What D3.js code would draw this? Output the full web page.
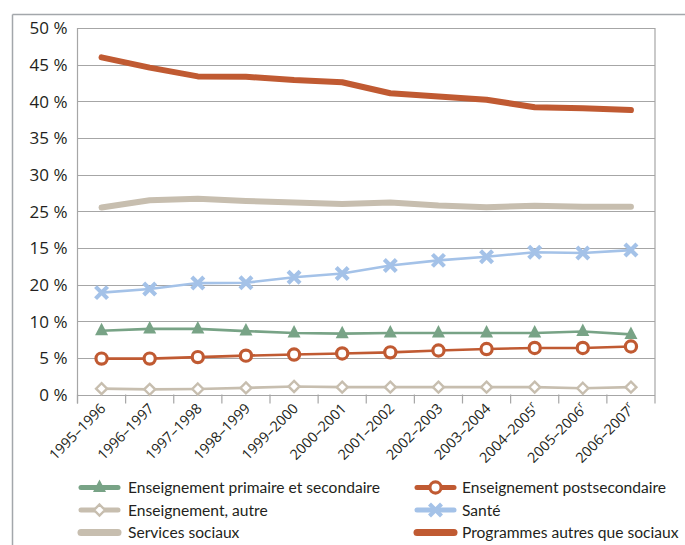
<!DOCTYPE html>
<html><head><meta charset="utf-8">
<script src="https://cdn.jsdelivr.net/npm/d3@7"></script>
<style>
body{margin:0;background:#fff;}
svg{display:block;font-family:Lato,"Open Sans",sans-serif;}
</style></head>
<body><svg id="c" width="685" height="545"></svg>
<script>
const categories = ["1995–1996","1996–1997","1997–1998","1998–1999","1999–2000","2000–2001","2001–2002","2002–2003","2003–2004","2004–2005","2005–2006","2006–2007"];
const revised = [false,false,false,false,false,false,false,false,false,true,true,true];
const yTickValues = [0,5,10,15,20,25,30,35,40,45,50];
const yTickLabels = ["0 %","5 %","10 %","20 %","15 %","25 %","30 %","35 %","40 %","45 %","50 %"];

const primaireSecondaire = [8.7,8.95,8.95,8.65,8.4,8.3,8.4,8.4,8.4,8.4,8.6,8.2];
const postsecondaire = [4.9,4.9,5.1,5.3,5.45,5.6,5.75,6.0,6.2,6.35,6.35,6.55];
const enseignementAutre = [0.8,0.7,0.75,0.9,1.1,1.0,1.0,1.0,1.0,1.0,0.85,1.0];
const sante = [13.9,14.4,15.2,15.25,16.0,16.5,17.6,18.3,18.8,19.4,19.3,19.7];
const servicesSociaux = [25.5,26.5,26.7,26.4,26.2,26.0,26.2,25.8,25.55,25.75,25.6,25.6];
const programmesAutres = [46.0,44.6,43.4,43.35,42.9,42.6,41.1,40.65,40.2,39.2,39.05,38.8];

const seriesNames = ["Enseignement primaire et secondaire","Enseignement postsecondaire","Enseignement, autre","Santé","Services sociaux","Programmes autres que sociaux"];

const ORANGE="#c05a32", BEIGE="#c7beaf", BLUE="#a4c2e8", GREEN="#78a386";
const series = [
  {name:seriesNames[4], values:servicesSociaux, color:BEIGE, width:6, marker:null},
  {name:seriesNames[5], values:programmesAutres, color:ORANGE, width:6, marker:null},
  {name:seriesNames[3], values:sante, color:BLUE, width:2.6, marker:"x"},
  {name:seriesNames[0], values:primaireSecondaire, color:GREEN, width:2.6, marker:"tri"},
  {name:seriesNames[2], values:enseignementAutre, color:BEIGE, width:2.6, marker:"dia"},
  {name:seriesNames[1], values:postsecondaire, color:ORANGE, width:2.6, marker:"circ"}
];

const svg = d3.select("#c");
const L=77.5, R=655, T=28, B=394.5;

// outer frame
svg.append("line").attr("x1",12.5).attr("x2",685).attr("y1",14.5).attr("y2",14.5).attr("stroke","#a3a7ab").attr("stroke-width",1.5);
svg.append("line").attr("x1",12.5).attr("x2",12.5).attr("y1",14.5).attr("y2",545).attr("stroke","#a3a7ab").attr("stroke-width",1.5);

const x = d3.scaleBand().domain(categories).range([L,R]).padding(0);
const y = d3.scaleLinear().domain([0,50]).range([B,T]);

// gridlines
svg.append("g").selectAll("line").data(yTickValues).join("line")
  .attr("x1",L).attr("x2",R).attr("y1",d=>Math.round(y(d))+0.5).attr("y2",d=>Math.round(y(d))+0.5)
  .attr("stroke","#a6a6a6").attr("stroke-width",1.2);
// plot border
svg.append("line").attr("x1",L).attr("x2",L).attr("y1",T).attr("y2",B+9).attr("stroke","#a6a6a6").attr("stroke-width",1.2);
svg.append("line").attr("x1",R).attr("x2",R).attr("y1",T).attr("y2",B+9).attr("stroke","#a6a6a6").attr("stroke-width",1.2);

// y labels
svg.append("g").selectAll("text").data(yTickValues).join("text")
  .attr("x",67.5).attr("y",d=>y(d)).attr("dy","0.38em").attr("text-anchor","end")
  .attr("font-family","'Open Sans',sans-serif")
  .attr("font-size",17).attr("fill","#231f20").text((d,i)=>yTickLabels[i]);

// x axis ticks
const xAxis = d3.axisBottom(x).tickSize(0).tickFormat("");
const gx = svg.append("g").attr("transform",`translate(0,${B})`).call(xAxis);
gx.select(".domain").remove();
svg.append("g").selectAll("line").data(categories).join("line")
  .attr("x1",d=>x(d)).attr("x2",d=>x(d)).attr("y1",B).attr("y2",B+9)
  .attr("stroke","#a6a6a6").attr("stroke-width",1.2);

// x labels
const xl = svg.append("g").selectAll("text").data(categories).join("text")
  .attr("transform",d=>`translate(${x(d)+x.bandwidth()/2+5},${B+15}) rotate(-45)`)
  .attr("font-family","'Open Sans',sans-serif")
  .attr("text-anchor","end").attr("font-size",14.3).attr("fill","#231f20");
xl.append("tspan").text(d=>d);
xl.filter((d,i)=>revised[i]).append("tspan").attr("font-size",10).attr("dy","-0.6em").text("r");

// lines
const cx = i=>x(categories[i])+x.bandwidth()/2;
const line = d3.line().x((d,i)=>cx(i)).y(d=>y(d));
const gl = svg.append("g");
series.forEach(s=>{
  gl.append("path").datum(s.values).attr("d",line).attr("fill","none")
    .attr("stroke",s.color).attr("stroke-width",s.width).attr("stroke-linecap","round").attr("stroke-linejoin","round");
});

function drawMarker(g, type, color, px, py){
  if(type==="x"){
    const a=6;
    g.append("path").attr("d",`M${px-a},${py-a}L${px+a},${py+a}M${px-a},${py+a}L${px+a},${py-a}`)
      .attr("stroke",color).attr("stroke-width",4.2).attr("fill","none");
  } else if(type==="tri"){
    g.append("path").attr("d",`M${px},${py-8}L${px+6.5},${py+4.5}L${px-6.5},${py+4.5}Z`).attr("fill",color);
  } else if(type==="dia"){
    g.append("path").attr("d",`M${px},${py-5.5}L${px+5.5},${py}L${px},${py+5.5}L${px-5.5},${py}Z`)
      .attr("fill","#fff").attr("stroke",color).attr("stroke-width",2.4);
  } else if(type==="circ"){
    g.append("circle").attr("cx",px).attr("cy",py).attr("r",5.6)
      .attr("fill","#fff").attr("stroke",color).attr("stroke-width",3.2);
  }
}
const gm = svg.append("g");
series.forEach(s=>{
  if(!s.marker) return;
  s.values.forEach((v,i)=>drawMarker(gm,s.marker,s.color,cx(i),y(v)));
});

// legend
const legendOrder = [
  {s:series[3], col:0,row:0},{s:series[5], col:1,row:0},
  {s:series[4], col:0,row:1},{s:series[2], col:1,row:1},
  {s:series[0], col:0,row:2},{s:series[1], col:1,row:2}
];
const lg = svg.append("g");
legendOrder.forEach(o=>{
  const x0 = o.col===0?78:414, yy = 487.5+o.row*22.5;
  const thick = !o.s.marker;
  lg.append("line").attr("x1",x0+3).attr("x2",x0+40).attr("y1",yy).attr("y2",yy)
    .attr("stroke",o.s.color).attr("stroke-width",thick?7:5).attr("stroke-linecap","round");
  if(o.s.marker) drawMarker(lg,o.s.marker,o.s.color,x0+21.5,yy);
  lg.append("text").attr("x",o.col===0?128:462).attr("y",yy).attr("dy","0.36em")
    .attr("font-size",15.6).attr("fill","#231f20").text(o.s.name);
});
</script></body></html>
